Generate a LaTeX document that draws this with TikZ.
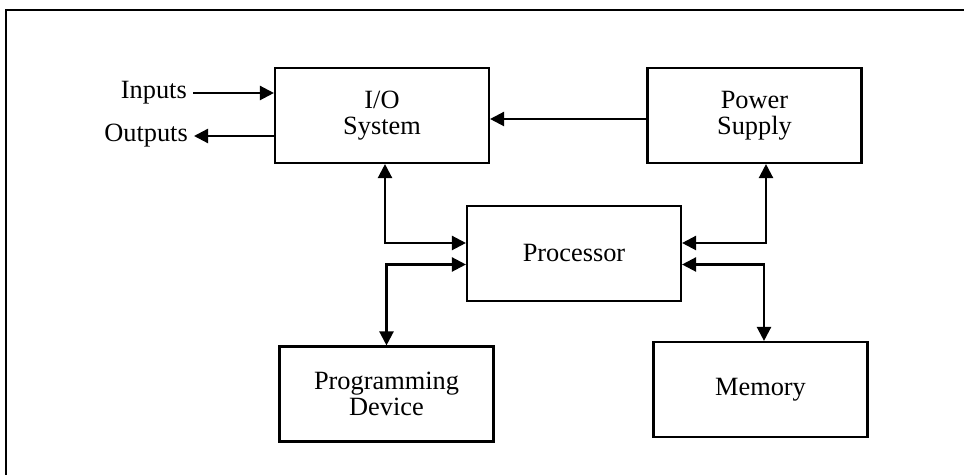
\documentclass[tikz,border=0pt]{standalone}
\usepackage{fontspec}
\setmainfont{Liberation Serif}
\usetikzlibrary{arrows.meta}

\begin{document}
\begin{tikzpicture}[
    blocco/.style={draw, line width=1.2pt, minimum width=4.28cm, minimum height=1.9cm, align=center},
    freccia/.style={-{Triangle[length=8pt,width=8pt]}, line width=1.3pt},
    doppia/.style={{Triangle[length=8pt,width=8pt]}-{Triangle[length=8pt,width=8pt]}, line width=1.3pt},
    font=\fontsize{15}{15}\selectfont]

  \useasboundingbox (0,0) rectangle (19.28,9.5);

  % --- cornice ---
  \draw[line width=1.6pt] (0.12,-0.2) -- (0.12,9.3) -- (19.5,9.3);

  % --- blocchi ---
  \node[blocco] (io)    at (7.64, 7.19)  {I/O\\System};
  \node[blocco] (power) at (15.09, 7.19) {Power\\Supply};
  \node[blocco] (proc)  at (11.48, 4.43) {Processor};
  \node[blocco] (prog)  at (7.73, 1.62)  {Programming\\Device};
  \node[blocco] (mem)   at (15.21, 1.71) {Memory};

  % --- ingressi / uscite ---
  \node[anchor=east] (inputs)  at (3.86, 7.64) {Inputs};
  \node[anchor=east] (outputs) at (3.88, 6.78) {Outputs};
  \draw[freccia] (inputs.east) -- (io.west |- inputs.east);
  \draw[freccia] (io.west |- outputs.east) -- (outputs.east);

  % --- alimentazione ---
  \draw[freccia] ([yshift=-0.07cm]power.west) -- ([yshift=-0.07cm]io.east);

  % --- collegamenti al processore ---
  \draw[doppia] ([xshift=0.06cm]io.south) |- ([yshift=0.21cm]proc.west);
  \draw[doppia] ([yshift=-0.22cm]proc.west) -| (prog.north);
  \draw[doppia] ([xshift=0.23cm]power.south) |- ([yshift=0.21cm]proc.east);
  \draw[doppia] ([yshift=-0.22cm]proc.east) -| ([xshift=0.07cm]mem.north);

\end{tikzpicture}
\end{document}
